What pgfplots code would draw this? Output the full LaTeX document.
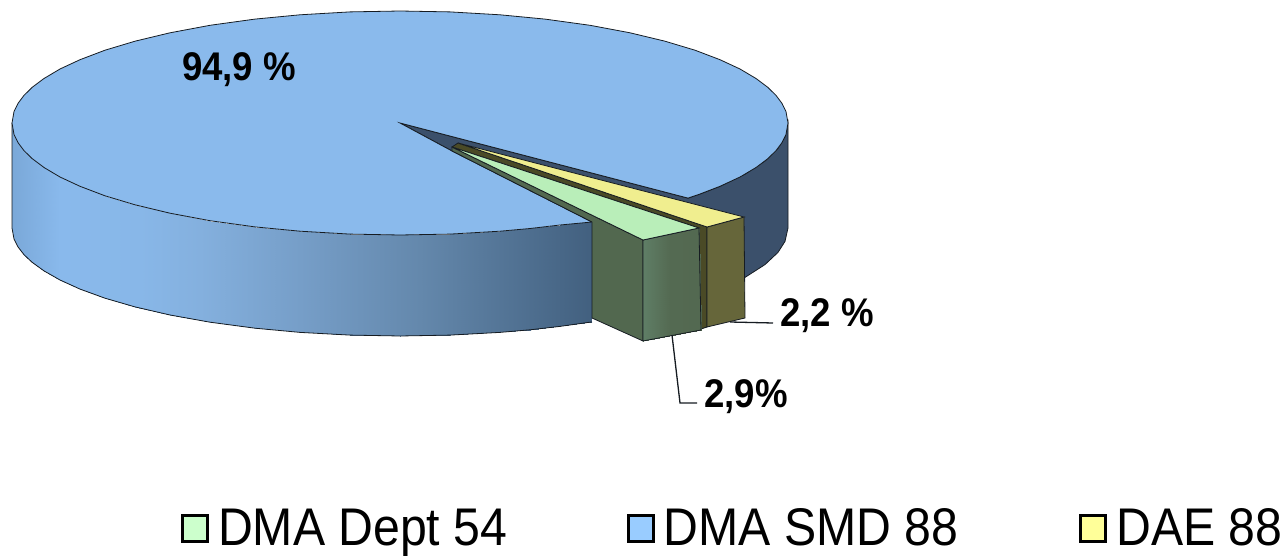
\documentclass[border=0pt]{standalone}
\usepackage{fontspec}
\setmainfont{Liberation Sans}
\usepackage{pgfplots}
\pgfplotsset{compat=1.18}

\definecolor{pietop}{HTML}{8ABAEC}
\definecolor{piedark}{HTML}{3B506B}
\definecolor{greentop}{HTML}{B9EEB9}
\definecolor{greenside}{HTML}{52684F}
\definecolor{yellowtop}{HTML}{F0EE8F}
\definecolor{yellowface}{HTML}{66663A}
\definecolor{yellowside}{HTML}{4A4A26}
\definecolor{edge}{HTML}{161C22}
\definecolor{leggreen}{HTML}{CCFFCC}
\definecolor{legblue}{HTML}{99CCFF}
\definecolor{legyellow}{HTML}{FFFF99}

\newcommand{\lab}[1]{\fontsize{40}{44}\selectfont\bfseries\scalebox{.915}[1]{#1}}
\newcommand{\leg}[1]{\scalebox{.91}[1]{#1}}

\begin{document}
\begin{tikzpicture}
  \useasboundingbox (0,0) rectangle (1285pt,556pt);
  \begin{axis}[
      at={(0,0)}, anchor=south west,
      scale only axis, width=1285pt, height=556pt,
      xmin=0, xmax=1285, ymin=0, ymax=556,
      y dir=reverse,
      hide axis, clip=false,
      point meta min=12, point meta max=745,
      colormap={wallmap}{
        rgb255(12)=(122,168,216); rgb255(60)=(137,185,236); rgb255(140)=(136,183,232);
        rgb255(200)=(132,176,222); rgb255(300)=(118,158,200); rgb255(420)=(100,136,172);
        rgb255(592)=(66,96,127); rgb255(745)=(66,96,127)},
      colormap={greenmap}{
        rgb255(12)=(95,126,102); rgb255(643)=(95,126,102); rgb255(670)=(84,106,82);
        rgb255(745)=(82,103,79)},
      colormap name=wallmap,
      legend columns=3,
      legend cell align=left,
      legend style={
        at={(axis cs:181,528)}, anchor=west, draw=none, fill=none, inner sep=0pt, outer sep=0pt,
        font=\fontsize{53}{57}\selectfont,
        /tikz/column 1/.style={column sep=7pt},
        /tikz/column 3/.style={column sep=7pt},
        /tikz/column 5/.style={column sep=7pt},
        /tikz/column 2/.style={column sep=117pt},
        /tikz/column 4/.style={column sep=119pt},
      },
    ]

    % back wall seen through the gap
    \addplot[fill=piedark, draw=edge, line width=.8pt, forget plot] coordinates {
      (400,123) (688,198.1) (700,194.0) (720,186.3) (745,174.2) (765,161.0) (778,148.3) (785,136.9) (788,123)
      (788,228) (785,241.4) (778,252.4) (765,264.6) (745,277.4) (700,277) (452,151)
    } --cycle;

    % front wall of the big slice
    \addplot[surf, shader=interp, point meta=x, mesh/rows=2, mesh/cols=21, forget plot] table {
      x y
      12 123
      14 134.4
      18 142.6
      24 150.6
      32 158.5
      44 167.5
      60 177.0
      80 186.3
      105 195.8
      135 204.8
      170 213.2
      210 220.7
      255 226.9
      300 231.2
      350 234.1
      400 235
      450 234.1
      500 231.2
      530 228.5
      560 225.0
      592 220.3
      12 228
      14 239.0
      18 246.9
      24 254.7
      32 262.2
      44 270.9
      60 280.0
      80 289.1
      105 298.2
      135 306.9
      170 315.0
      210 322.2
      255 328.2
      300 332.4
      350 335.1
      400 336
      450 335.1
      500 332.4
      530 329.8
      560 326.4
      592 321.9
    };
    \addplot[draw=edge, line width=.8pt, forget plot] coordinates {
      (12,123) (12,228) (14,239.0) (18,246.9) (24,254.7) (32,262.2) (44,270.9) (60,280.0) (80,289.1) (105,298.2)
      (135,306.9) (170,315.0) (210,322.2) (255,328.2) (300,332.4) (350,335.1) (400,336) (450,335.1) (500,332.4)
      (530,329.8) (560,326.4) (592,321.9)
    };

    % top of the big slice
    \addplot[fill=pietop, draw=edge, line width=.8pt, forget plot] coordinates {
      (400,123) (452,151) (592,222) (560,225.0) (530,228.5) (500,231.2) (450,234.1) (400,235) (350,234.1) (300,231.2)
      (255,226.9) (210,220.7) (170,213.2) (135,204.8) (105,195.8) (80,186.3) (60,177.0) (44,167.5) (32,158.5)
      (24,150.6) (18,142.6) (14,134.4) (12,123)
      (14,111.6) (18,103.4) (24,95.4) (32,87.5) (44,78.5) (60,69.0) (80,59.7) (105,50.2) (135,41.2) (170,32.8)
      (210,25.3) (255,19.1) (300,14.8) (350,11.9) (400,11) (450,11.9) (500,14.8) (545,19.1) (590,25.3) (630,32.8)
      (665,41.2) (695,50.2) (720,59.7) (740,69.0) (756,78.5) (768,87.5) (776,95.4) (782,103.4) (786,111.6) (788,123)
      (786,134.4) (782,142.6) (776,150.6) (768,158.5) (756,167.5) (740,177.0) (720,186.3) (700,194.0) (688,198.1)
    } --cycle;

    % yellow slice
    \addplot[fill=yellowside, draw=edge, line width=.8pt, forget plot] coordinates {
      (458,143) (707,227) (707,327) (701,329) (699,228) (452,147)} --cycle;
    \addplot[fill=yellowface, draw=edge, line width=.8pt, forget plot] coordinates {
      (707,227) (744,217) (745,318) (707,327)} --cycle;
    \addplot[fill=yellowtop, draw=edge, line width=.8pt, forget plot] coordinates {
      (458,143) (744,217) (707,227)} --cycle;

    % green slice
    \addplot[fill=greenside, draw=edge, line width=.8pt, forget plot] coordinates {
      (452,147) (643,240) (643,341) (592,318) (592,222) (452,151)} --cycle;
    \addplot[surf, shader=interp, colormap name=greenmap, point meta=x, mesh/rows=2, mesh/cols=2, forget plot] table {
      x y
      643 240
      699 228
      643 341
      701 330
    };
    \addplot[draw=edge, line width=.8pt, forget plot] coordinates {
      (643,240) (699,228) (701,330) (643,341) (643,240)};
    \addplot[fill=greentop, draw=edge, line width=.8pt, forget plot] coordinates {
      (452,147) (643,240) (699,228)} --cycle;

    % leader lines
    \addplot[draw=edge, line width=1.3pt, forget plot] coordinates {(730,322) (773,323)};
    \addplot[draw=edge, line width=1.3pt, forget plot] coordinates {(672,335) (680,403) (697,403)};

    \node[anchor=center] at (axis cs:239,70) {\lab{94,9 \%}};
    \node[anchor=center] at (axis cs:827,316) {\lab{2,2 \%}};
    \node[anchor=center] at (axis cs:746,397) {\lab{2,9\%}};

    \addlegendimage{legend image code/.code={\draw[draw=black, line width=3pt, fill=leggreen] (0pt,-13pt) rectangle (25pt,13pt);}}
    \addlegendentry{\leg{DMA Dept 54}}
    \addlegendimage{legend image code/.code={\draw[draw=black, line width=3pt, fill=legblue] (0pt,-13pt) rectangle (25pt,13pt);}}
    \addlegendentry{\leg{DMA SMD 88}}
    \addlegendimage{legend image code/.code={\draw[draw=black, line width=3pt, fill=legyellow] (0pt,-13pt) rectangle (25pt,13pt);}}
    \addlegendentry{\leg{DAE 88}}
  \end{axis}
\end{tikzpicture}
\end{document}
